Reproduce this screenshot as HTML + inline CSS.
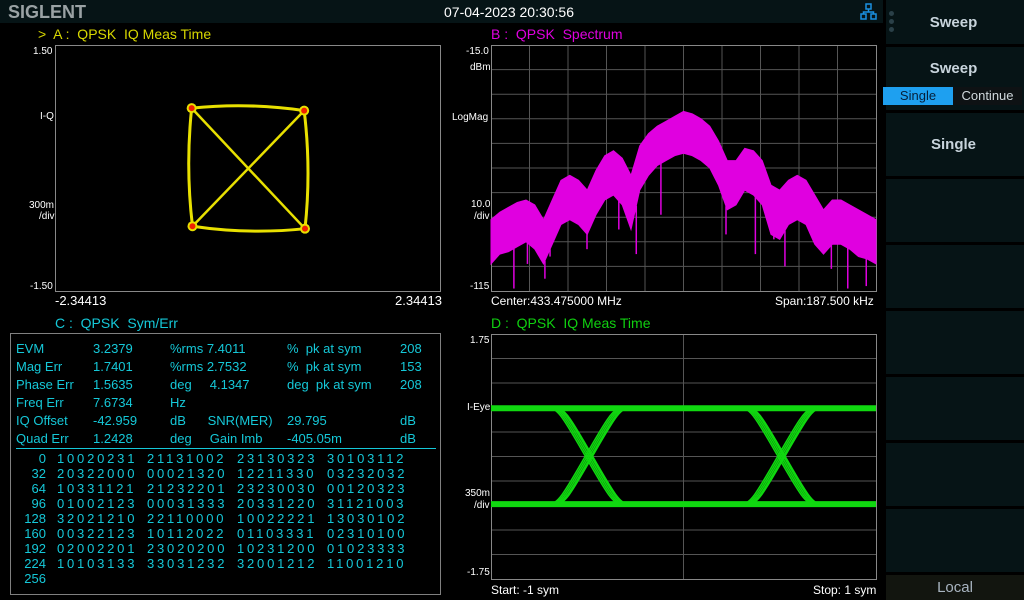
<!DOCTYPE html>
<html><head><meta charset="utf-8">
<style>
*{margin:0;padding:0;box-sizing:border-box}
body{width:1024px;height:600px;background:#000;overflow:hidden;position:relative;font-family:"Liberation Sans",sans-serif}
.abs{position:absolute;white-space:nowrap}
.topbar{left:0;top:0;width:883px;height:23px;background:#061416}
.menu{left:883px;width:141px;background:#061416}
.mtitle{color:#c8d4dc;font-weight:bold;font-size:15px;width:141px;text-align:center}
.tbl{color:#15c8d8;font-size:13px}
.lbl{color:#fff;font-size:10px}
.dg{color:#15c8d8;font-size:13px;letter-spacing:2.8px;line-height:15px;top:451px}
</style></head><body>
<div class="abs topbar"></div>
<div class="abs" style="left:8px;top:2px;font-size:18px;font-weight:bold;color:#9aa2a4;letter-spacing:0px">SIGLENT</div>
<div class="abs" style="left:444px;top:4px;font-size:14px;color:#fff">07-04-2023 20:30:56</div>
<svg class="abs" style="left:860px;top:3px" width="18" height="18"><g fill="none" stroke="#1a90e0" stroke-width="1.5"><rect x="6" y="1" width="5" height="5"/><rect x="1" y="11" width="5" height="5"/><rect x="11" y="11" width="5" height="5"/><path d="M8.5 6v3M3.5 11V9h10v2"/></g></svg>

<!-- right menu -->
<div class="abs menu" style="top:0;height:600px"></div>
<div class="abs" style="left:883px;top:0;width:3px;height:600px;background:#000"></div>
<div class="abs" style="left:889px;top:11px;width:5px;height:5px;border-radius:50%;background:#2a4048"></div>
<div class="abs" style="left:889px;top:19px;width:5px;height:5px;border-radius:50%;background:#2a4048"></div>
<div class="abs" style="left:889px;top:27px;width:5px;height:5px;border-radius:50%;background:#2a4048"></div>
<div class="abs mtitle" style="left:883px;top:14px">Sweep</div>
<div class="abs" style="left:883px;top:44px;width:141px;height:3px;background:#000"></div>
<div class="abs mtitle" style="left:883px;top:60px">Sweep</div>
<div class="abs" style="left:883px;top:87px;width:70px;height:18px;background:#1ea0f0;color:#06203a;font-size:13px;text-align:center;line-height:18px">Single</div>
<div class="abs" style="left:953px;top:87px;width:69px;height:18px;background:#0e1214;color:#d0d8dc;font-size:13px;text-align:center;line-height:18px">Continue</div>
<div class="abs" style="left:883px;top:110px;width:141px;height:3px;background:#000"></div>
<div class="abs mtitle" style="left:883px;top:136px">Single</div>
<div class="abs" style="left:883px;top:176px;width:141px;height:3px;background:#000"></div>
<div class="abs" style="left:883px;top:242px;width:141px;height:3px;background:#000"></div>
<div class="abs" style="left:883px;top:308px;width:141px;height:3px;background:#000"></div>
<div class="abs" style="left:883px;top:374px;width:141px;height:3px;background:#000"></div>
<div class="abs" style="left:883px;top:440px;width:141px;height:3px;background:#000"></div>
<div class="abs" style="left:883px;top:506px;width:141px;height:3px;background:#000"></div>
<div class="abs" style="left:883px;top:572px;width:141px;height:3px;background:#000"></div>
<div class="abs" style="left:886px;top:575px;width:138px;height:25px;background:#12150f;color:#a8b4c0;font-size:15px;text-align:center;line-height:25px">Local</div>

<!-- titles -->
<div class="abs" style="left:38px;top:26px;font-size:14px;color:#d8d800">&gt;&nbsp; A :&nbsp; QPSK&nbsp; IQ Meas Time</div>
<div class="abs" style="left:491px;top:26px;font-size:14px;color:#e000e0">B :&nbsp; QPSK&nbsp; Spectrum</div>
<div class="abs" style="left:55px;top:315px;font-size:14px;color:#15c8d8">C :&nbsp; QPSK&nbsp; Sym/Err</div>
<div class="abs" style="left:491px;top:315px;font-size:14px;color:#10d010">D :&nbsp; QPSK&nbsp; IQ Meas Time</div>

<!-- A labels -->
<div class="abs lbl" style="left:33px;top:46px">1.50</div>
<div class="abs lbl" style="left:40px;top:111px">I-Q</div>
<div class="abs lbl" style="left:29px;top:200px">300m</div>
<div class="abs lbl" style="left:39px;top:211px">/div</div>
<div class="abs lbl" style="left:30px;top:281px">-1.50</div>
<div class="abs" style="left:55px;top:293px;font-size:13px;color:#fff">-2.34413</div>
<div class="abs" style="left:395px;top:293px;font-size:13px;color:#fff">2.34413</div>
<svg class="abs" id="svgA" style="left:0;top:0" width="460" height="300"></svg>

<!-- B labels -->
<div class="abs lbl" style="left:466px;top:46px">-15.0</div>
<div class="abs lbl" style="left:470px;top:62px">dBm</div>
<div class="abs lbl" style="left:452px;top:112px">LogMag</div>
<div class="abs lbl" style="left:471px;top:199px">10.0</div>
<div class="abs lbl" style="left:474px;top:211px">/div</div>
<div class="abs lbl" style="left:470px;top:281px">-115</div>
<div class="abs" style="left:491px;top:294px;font-size:12px;color:#fff">Center:433.475000 MHz</div>
<div class="abs" style="left:775px;top:294px;font-size:12px;color:#fff">Span:187.500 kHz</div>
<svg class="abs" id="svgB" style="left:0;top:0" width="883" height="300"></svg>

<!-- D labels -->
<div class="abs lbl" style="left:470px;top:335px">1.75</div>
<div class="abs lbl" style="left:467px;top:402px">I-Eye</div>
<div class="abs lbl" style="left:465px;top:488px">350m</div>
<div class="abs lbl" style="left:474px;top:500px">/div</div>
<div class="abs lbl" style="left:467px;top:567px">-1.75</div>
<div class="abs" style="left:491px;top:583px;font-size:12px;color:#fff">Start: -1 sym</div>
<div class="abs" style="left:813px;top:583px;font-size:12px;color:#fff">Stop: 1 sym</div>
<svg class="abs" id="svgD" style="left:0;top:0" width="883" height="600"></svg>

<!-- C table -->
<div class="abs" style="left:10px;top:333px;width:431px;height:262px;border:1px solid #808080"></div>
<div class="abs" style="left:16px;top:448px;width:420px;height:1px;background:#15c8d8"></div>
<div class="abs tbl" style="left:16px;top:340px;line-height:18px">EVM<br>Mag Err<br>Phase Err<br>Freq Err<br>IQ Offset<br>Quad Err</div>
<div class="abs tbl" style="left:93px;top:340px;line-height:18px">3.2379<br>1.7401<br>1.5635<br>7.6734<br>-42.959<br>1.2428</div>
<div class="abs tbl" style="left:170px;top:340px;line-height:18px">%rms 7.4011<br>%rms 2.7532<br>deg&nbsp;&nbsp;&nbsp;&nbsp; 4.1347<br>Hz<br>dB&nbsp;&nbsp;&nbsp;&nbsp;&nbsp; SNR(MER)<br>deg&nbsp;&nbsp;&nbsp;&nbsp; Gain Imb</div>
<div class="abs tbl" style="left:287px;top:340px;line-height:18px">%&nbsp; pk at sym<br>%&nbsp; pk at sym<br>deg&nbsp; pk at sym<br>&nbsp;<br>29.795<br>-405.05m</div>
<div class="abs tbl" style="left:400px;top:340px;line-height:18px">208<br>153<br>208<br>&nbsp;<br>dB<br>dB</div>
<div class="abs dg" style="left:14px;width:32px;text-align:right;letter-spacing:0">0<br>32<br>64<br>96<br>128<br>160<br>192<br>224<br>256</div>
<div class="abs dg" style="left:57px">10020231<br>20322000<br>10331121<br>01002123<br>32021210<br>00322123<br>02002201<br>10103133</div>
<div class="abs dg" style="left:147px">21131002<br>00021320<br>21232201<br>00031333<br>22110000<br>10112022<br>23020200<br>33031232</div>
<div class="abs dg" style="left:237px">23130323<br>12211330<br>23230030<br>20331220<br>10022221<br>01103331<br>10231200<br>32001212</div>
<div class="abs dg" style="left:327px">30103112<br>03232032<br>00120323<br>31121003<br>13030102<br>02310100<br>01023333<br>11001210</div>

<script>
// ---------- Constellation data ----------
const symI = [-0.68, 0.69, -0.67, 0.70];
const symQ = [0.73, 0.70, -0.71, -0.74];
// ---------- Spectrum data ----------
const specTop = [-86,-83,-81,-79,-78,-80,-86,-78,-70,-68,-70,-74,-66,-60,-58,-61,-68,-56,-51,-48,-46,-44,-42,-43,-45,-48,-54,-62,-62,-57,-58,-62,-72,-74,-70,-68,-70,-76,-82,-78,-78,-80,-82,-84,-86];
const specBot = [-104,-100,-99,-97,-95,-98,-104,-96,-88,-86,-88,-92,-84,-78,-76,-80,-90,-74,-68,-64,-62,-60,-59,-60,-62,-65,-72,-82,-80,-74,-76,-80,-92,-94,-88,-86,-88,-96,-100,-96,-96,-98,-101,-102,-104];
const spikeKHz = [-82.6,-76,-67.5,-65,-47,-31.5,-23,-11,20.7,35,44,49.4,72,80,89];
const spikeDb = [-114,-104,-110,-101,-98,-90,-100,-84,-92,-100,-94,-105,-106,-114,-113];
// ---------- Eye data ----------
const eyeLevels = [0.69, -0.68];
const eyeCross = [-0.49, 0.51];
const eyeSkew = [-0.04,-0.02,0,0.02,0.035];

const NS='http://www.w3.org/2000/svg';
function mk(svg,tag,attrs){const e=document.createElementNS(NS,tag);for(const k in attrs)e.setAttribute(k,attrs[k]);svg.appendChild(e);return e;}

// A
(function(){
 const s=document.getElementById('svgA');
 const L=55,R=440,T=45,B=291;
 const xs=v=>L+(v+2.34413)/(4.68826)*(R-L), ys=v=>T+(1.5-v)/3*(B-T);
 const f=mk(s,'rect',{x:L+.5,y:T+.5,width:R-L,height:B-T,fill:'none',stroke:'#888'});
 
 const order=[0,1,3,2];
 for(let k=0;k<4;k++){const a=order[k],b=order[(k+1)%4];
  const mx=(symI[a]+symI[b])/2*1.12, my=(symQ[a]+symQ[b])/2*1.12;
  const p=mk(s,'path',{d:`M${xs(symI[a])},${ys(symQ[a])} Q${xs(mx)},${ys(my)} ${xs(symI[b])},${ys(symQ[b])}`,fill:'none',stroke:'#e8e000','stroke-width':3});
  }
 [[0,3],[1,2]].forEach(([a,b])=>{const p=mk(s,'line',{x1:xs(symI[a]),y1:ys(symQ[a]),x2:xs(symI[b]),y2:ys(symQ[b]),stroke:'#e8e000','stroke-width':2.5});
  });
 for(let i=0;i<4;i++){const c=mk(s,'circle',{cx:xs(symI[i]),cy:ys(symQ[i]),r:5,fill:'#e8e000'});
  
  const d=mk(s,'circle',{cx:xs(symI[i]),cy:ys(symQ[i]),r:3,fill:'#f02000'});
  }
})();

// B
(function(){
 const s=document.getElementById('svgB');
 const L=491,R=876,T=45,B=291;
 const xs=k=>L+(k+93.75)/187.5*(R-L), ys=d=>T+(-15-d)/100*(B-T);
 mk(s,'rect',{x:L,y:T,width:R-L,height:B-T,fill:'#000'});
 for(let i=1;i<10;i++){mk(s,'line',{x1:L+i*(R-L)/10,y1:T,x2:L+i*(R-L)/10,y2:B,stroke:'#555'});
  mk(s,'line',{x1:L,y1:T+i*(B-T)/10,x2:R,y2:T+i*(B-T)/10,stroke:'#555'});}
 const f=mk(s,'rect',{x:L+.5,y:T+.5,width:R-L,height:B-T,fill:'none',stroke:'#888'});
 
 const n=specTop.length, fk=i=>-93.75+i*187.5/(n-1);
 let d='M'+specTop.map((v,i)=>xs(fk(i))+','+ys(v)).join(' L');
 for(let i=n-1;i>=0;i--) d+=' L'+xs(fk(i))+','+ys(specBot[i]);
 const p=mk(s,'path',{d:d+'Z',fill:'#e000e0',stroke:'#e000e0','stroke-width':1});
 
 for(let i=0;i<spikeKHz.length;i++){
  const k=spikeKHz[i], idx=(k+93.75)/187.5*(n-1), i0=Math.floor(idx), i1=Math.min(n-1,i0+1), t=idx-i0;
  const bot=specBot[i0]*(1-t)+specBot[i1]*t;
  const l=mk(s,'line',{x1:xs(k),y1:ys(bot),x2:xs(k),y2:ys(spikeDb[i]),stroke:'#e000e0','stroke-width':1.5});
  }
})();

// D
(function(){
 const s=document.getElementById('svgD');
 const L=491,R=876,T=334,B=579;
 const xs=t=>L+(t+1)/2*(R-L), ys=v=>T+(1.75-v)/3.5*(B-T);
 for(let i=1;i<10;i++) mk(s,'line',{x1:L,y1:T+i*(B-T)/10,x2:R,y2:T+i*(B-T)/10,stroke:'#555'});
 mk(s,'line',{x1:(L+R)/2,y1:T,x2:(L+R)/2,y2:B,stroke:'#555'});
 const f=mk(s,'rect',{x:L+.5,y:T+.5,width:R-L,height:B-T,fill:'none',stroke:'#888'});
 
 eyeLevels.forEach(v=>{const l=mk(s,'line',{x1:L,y1:ys(v),x2:R,y2:ys(v),stroke:'#10d810','stroke-width':6});
  });
 const hw=0.19;
 eyeCross.forEach(c=>{eyeSkew.forEach(sk=>{
  [[eyeLevels[0],eyeLevels[1]],[eyeLevels[1],eyeLevels[0]]].forEach(([a,b])=>{
   const x0=xs(c-hw+sk*0.5),x1=xs(c+hw+sk*0.5),y0=ys(a),y1=ys(b),w=x1-x0;
   const p=mk(s,'path',{d:`M${x0},${y0} C${x0+w*0.12},${y0} ${x0+w*0.2},${y0+(y1-y0)*0.1} ${x0+w*0.5},${(y0+y1)/2} S${x1-w*0.12},${y1} ${x1},${y1}`,fill:'none',stroke:'#10d810','stroke-width':1.5});
   });
 });});
})();
</script>
</body></html>
